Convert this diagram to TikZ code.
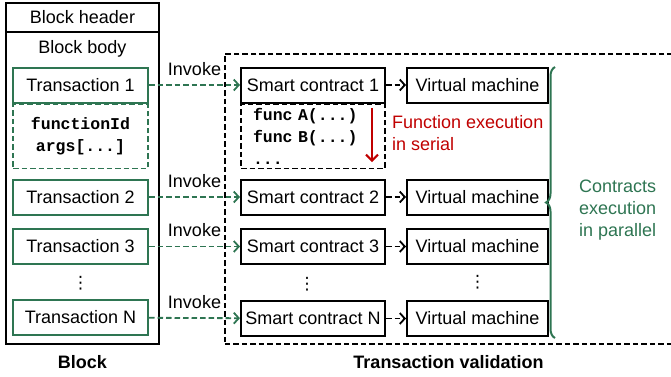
\documentclass[tikz,border=0pt]{standalone}
\usepackage{fontspec}
\setmainfont{Liberation Sans}
\setmonofont{Liberation Mono}
\newfontfamily\symfont{DejaVu Sans}
\usetikzlibrary{arrows.meta,decorations.pathreplacing}

\definecolor{txgreen}{RGB}{46,117,82}
\definecolor{execred}{RGB}{192,0,0}

\begin{document}
\begin{tikzpicture}[x=1pt,y=-1pt,
  every node/.style={font=\fontsize{18}{22}\selectfont, inner sep=0pt},
  box/.style={draw, line width=2pt, minimum height=35pt},
  txbox/.style={box, draw=txgreen, minimum width=135pt},
  scbox/.style={box, minimum width=144pt},
  vmbox/.style={box, minimum width=141pt},
  codebox/.style={dash pattern=on 5.5pt off 3pt, line width=1.8pt,
    minimum height=64pt, font=\ttfamily\bfseries\fontsize{16.5}{22}\selectfont},
  invoke/.style={draw=txgreen, line width=1.8pt, dash pattern=on 5.5pt off 3pt,
    -{Straight Barb[length=5pt,width=11pt,line width=1.8pt]}},
  tovm/.style={draw=black, line width=1.8pt, dash pattern=on 5.5pt off 3pt,
    -{Straight Barb[length=5pt,width=11pt,line width=1.8pt]}},
  caption/.style={font=\bfseries\fontsize{18}{22}\selectfont},
  dotsnode/.style={font=\symfont\fontsize{17}{22}\selectfont}
]
\useasboundingbox (0,0) rectangle (671,376);
\clip (0,0) rectangle (671,376);

% block with header and body
\node[draw, line width=2pt, minimum width=153pt, minimum height=341pt] (block) at (82.5,173.5) {};
\coordinate (hdrL) at (6,32);
\coordinate (hdrR) at (159,32);
\draw[line width=2pt] (hdrL) -- (hdrR);
\node (hdr) at (82.5,17.5) {Block header};
\node (body) at (82.5,49) {Block body};

% transactions
\node[txbox] (t1) at (80.5,85) {Transaction 1};
\node[codebox, draw=txgreen, minimum width=135pt, align=center, anchor=north] (args) at (t1.south)
  {functionId\\args[...]};
\node[txbox] (t2) at (80.5,197) {Transaction 2};
\node[txbox] (t3) at (80.5,246.5) {Transaction 3};
\node[dotsnode] (tdots) at (80.5,283) {⋮};
\node[txbox] (tn) at (80.5,317.5) {Transaction N};
\node[caption] (blockcap) at (82.5,362) {Block};

% validation area
\node[draw, dash pattern=on 5.5pt off 3pt, line width=1.8pt, anchor=north west,
  minimum width=470pt, minimum height=290pt] (valid) at (224,53) {};
\node[caption] (validcap) at (448.5,362) {Transaction validation};

% smart contracts and virtual machines
\node[scbox] (sc1) at (313,85) {Smart contract 1};
\node[codebox, draw=black, minimum width=144pt, text width=120pt, inner xsep=12pt,
  align=left, anchor=north] (funcs) at (sc1.south)
  {func A(...)\\func B(...)\\...};
\node[scbox] (sc2) at (313,197) {Smart contract 2};
\node[scbox] (sc3) at (313,246.5) {Smart contract 3};
\node[dotsnode] (scdots) at (307,284) {⋮};
\node[scbox] (scn) at (313,318.5) {Smart contract N};

\node[vmbox] (vm1) at (477.5,85) {Virtual machine};
\node[vmbox] (vm2) at (477.5,197) {Virtual machine};
\node[vmbox] (vm3) at (477.5,246.5) {Virtual machine};
\node[dotsnode] (vmdots) at (477.5,282) {⋮};
\node[vmbox] (vmn) at (477.5,318.5) {Virtual machine};

% invocations
\draw[invoke] (t1) -- node[yshift=16pt, text=black] {Invoke} (sc1);
\draw[invoke] (t2) -- node[yshift=16pt, text=black] {Invoke} (sc2);
\draw[invoke] (t3) -- node[yshift=16pt, text=black] {Invoke} (sc3);
\draw[invoke] (tn) -- node[yshift=16pt, text=black] {Invoke} (scn);

\draw[tovm] (sc1) -- (vm1);
\draw[tovm] (sc2) -- (vm2);
\draw[tovm] (sc3) -- (vm3);
\draw[tovm] (scn) -- (vmn);

% serial execution inside a contract
\coordinate (serialTop) at (372,108);
\coordinate (serialBot) at (372,162);
\draw[execred, line width=2pt, -{Straight Barb[length=6pt,width=12pt,line width=2pt]}]
  (serialTop) -- (serialBot);
\node[text=execred, align=left, anchor=west] (serial) at (392,133)
  {Function execution\\in serial};

% parallel execution across contracts
\coordinate (braceTop) at (555,67);
\coordinate (braceBot) at (555,338);
\draw[txgreen, line width=2pt, decorate,
  decoration={brace, amplitude=9pt, mirror}] (braceTop) -- (braceBot);
\node[text=txgreen, align=left, anchor=west] (parallel) at (579,210)
  {Contracts\\execution\\in parallel};
\end{tikzpicture}
\end{document}
